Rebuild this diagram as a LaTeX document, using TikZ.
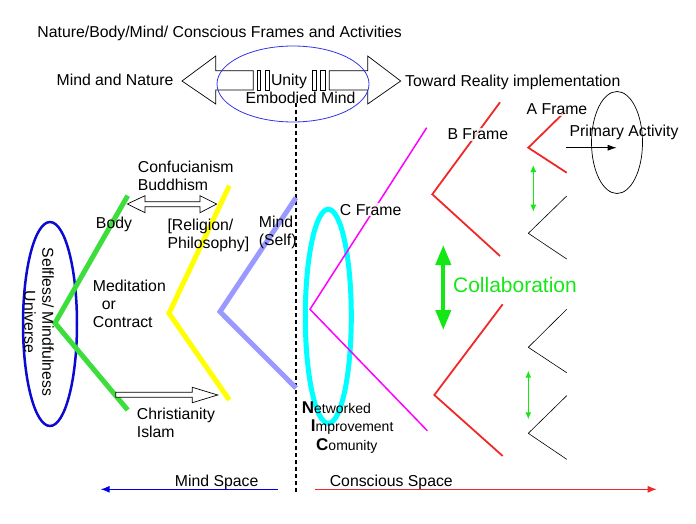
\documentclass[tikz,border=0pt]{standalone}
\usepackage{fontspec}
\setmainfont{Liberation Sans}
\usetikzlibrary{arrows.meta}
\definecolor{vgreen}{RGB}{60,222,60}
\definecolor{vlav}{RGB}{153,153,255}
\definecolor{vyellow}{RGB}{255,255,0}
\definecolor{vred}{RGB}{240,40,40}
\definecolor{vmag}{RGB}{255,0,255}
\definecolor{vcyan}{RGB}{0,255,255}
\definecolor{agreen}{RGB}{20,232,20}
\definecolor{eblue}{RGB}{10,10,210}
\definecolor{tblue}{RGB}{50,50,230}
\definecolor{sblue}{RGB}{0,0,230}
\begin{document}
\begin{tikzpicture}[x=1pt,y=-1pt,
    lbl/.style={inner sep=0pt,font=\fontsize{15.8}{18}\selectfont,align=left},
    framelbl/.style={lbl,fill=white,fill opacity=0.8,text opacity=1,inner sep=1pt},
    nic/.style={inner sep=0pt,font=\fontsize{14}{18.5}\selectfont,align=left},
    vshape/.style={line width=5pt},
    thinv/.style={line width=1.8pt},
    smallv/.style={line width=0.6pt},
    hollow/.style={draw=black,fill=white,line width=0.7pt},
    greenarr/.style={agreen,line width=1pt,{Latex[length=7pt,width=6pt]}-{Latex[length=7pt,width=6pt]}},
    spacearr/.style={line width=1pt,-{Latex[length=9pt,width=7pt]}}
    ]
    \useasboundingbox (0,0) rectangle (696,524);

    % top arrows round the unity
    \draw[hollow] (182,81) -- (215.7,56) -- (215.7,70.7) -- (253.3,70.7) -- (253.3,90) -- (215.7,90) -- (215.7,104) -- cycle;
    \draw[hollow] (257.3,70.7) rectangle (260.7,90);
    \draw[hollow] (265.7,70.7) rectangle (269.3,90);
    \draw[hollow] (312.7,70.7) rectangle (316.7,90);
    \draw[hollow] (320.7,70.7) rectangle (325,90);
    \draw[hollow] (400.7,81) -- (367.7,56) -- (367.7,70.7) -- (329.3,70.7) -- (329.3,90) -- (367.7,90) -- (367.7,104) -- cycle;
    \draw[tblue,line width=0.8pt] (293,84) ellipse [x radius=76pt,y radius=38pt];

    \coordinate (dtop) at (296,103);
    \coordinate (dbot) at (296,492);
    \draw[line width=2.2pt,dash pattern=on 4pt off 3pt] (dtop) -- (dbot);

    % body / religion / mind frames
    \draw[eblue,line width=2.5pt] (50,324) ellipse [x radius=27pt,y radius=102pt];
    \draw[vshape,vgreen] (127.7,195.7) -- (55,323) -- (127.7,410);
    \draw[vshape,vyellow] (229.3,185.7) -- (169,313.3) -- (229.3,400);
    \draw[vshape,vlav] (296,197.7) -- (220,311.7) -- (296,388);
    \draw[hollow] (127.3,204) -- (145,195.7) -- (145,201.7) -- (200,201.7) -- (200,195.7) -- (216.7,204) -- (200,212.7) -- (200,206.7) -- (145,206.7) -- (145,212.7) -- cycle;
    \draw[hollow] (115.7,392.3) -- (192.3,392.3) -- (192.3,387.3) -- (217.7,395) -- (192.3,402.7) -- (192.3,397.3) -- (115.7,397.3) -- cycle;

    % conscious frames
    \draw[vcyan,line width=5pt] (328.3,316.3) ellipse [x radius=23pt,y radius=107pt];
    \draw[vmag,line width=1.5pt] (426.7,127.7) -- (310,309.3) -- (427.3,430.7);
    \draw[thinv,vred] (500,102.3) -- (432.3,194.3) -- (500,256);
    \draw[thinv,vred] (502.7,304.3) -- (434.3,395) -- (502.7,456);
    \draw[thinv,vred] (566.7,110) -- (528.3,147.7) -- (566.7,172.7);
    \draw[smallv] (566.7,196) -- (528.3,233.3) -- (566.7,259);
    \draw[smallv] (566.7,309.3) -- (528.3,347.3) -- (566.7,372.7);
    \draw[smallv] (566.7,395.7) -- (528.3,433.3) -- (566.7,459.3);
    \draw[line width=0.7pt] (617,142.5) ellipse [x radius=25.5pt,y radius=51pt];

    \node[lbl,anchor=base] (title) at (219.7,38) {Nature/Body/Mind/ Conscious Frames and Activities};
    \node[lbl,anchor=base] (mindnat) at (115,85.7) {Mind and Nature};
    \node[lbl,anchor=base west] (toward) at (405,86.4) {Toward Reality implementation};
    \node[lbl,anchor=base] (unity) at (289,85.7) {Unity};
    \node[lbl,anchor=base] (embodied) at (300.5,103.7) {Embodied Mind};
    \node[framelbl,anchor=base] (aframe) at (557,114.7) {A Frame};
    \node[framelbl,anchor=base] (bframe) at (477.8,139.7) {B Frame};
    \node[framelbl,anchor=base] (cframe) at (370.7,215) {C Frame};
    \node[lbl,anchor=base] (primary) at (624,136.4) {Primary Activity};
    \node[lbl,anchor=base] (body) at (114,228) {Body};
    \node[lbl,anchor=base west] (confu) at (137.7,190) {Confucianism\\Buddhism};
    \node[lbl,anchor=base west] (relig) at (167.3,248) {[Religion/\\Philosophy]};
    \node[lbl,anchor=base west] (mindself) at (258.7,245.7) {Mind\\(Self)};
    \node[lbl,anchor=base west] (medit) at (92.7,327.4) {Meditation\\\hspace*{9pt}or\\Contract};
    \node[lbl,anchor=base west] (christ) at (136.7,437.4) {Christianity\\Islam};
    \node[lbl,align=center,rotate=-90] (selfless) at (39,322) {Selfless/ Mindfulness\\Universe};
    \node[nic,anchor=base west] (nic) at (301.7,450) {{\fontsize{17}{18}\selectfont\bfseries N}etworked\\\hspace*{9pt}{\fontsize{17}{18}\selectfont\bfseries I}mprovement\\\hspace*{14.3pt}{\fontsize{17}{18}\selectfont\bfseries C}omunity};
    \node[lbl,anchor=base,text=agreen,font=\fontsize{21}{24}\selectfont] (collab) at (515,292.5) {Collaboration};
    \node[lbl,anchor=base] (mindsp) at (216.7,486.4) {Mind Space};
    \node[lbl,anchor=base] (conssp) at (391.3,486.4) {Conscious Space};

    % connectors
    \coordinate (pa1) at (565.7,147.7);
    \coordinate (pa2) at (616.7,147.7);
    \draw[line width=0.8pt,-{Latex[length=9pt,width=6pt]}] (pa1) -- (pa2);
    \coordinate (ga1) at (533.3,165);
    \coordinate (ga2) at (533.3,211.7);
    \coordinate (gb1) at (528.3,370.7);
    \coordinate (gb2) at (528.3,419.3);
    \draw[greenarr] (ga1) -- (ga2);
    \draw[greenarr] (gb1) -- (gb2);
    \coordinate (co1) at (443.3,245);
    \coordinate (co2) at (443.3,330);
    \draw[agreen,line width=4pt,{Triangle[length=20pt,width=15pt]}-{Triangle[length=20pt,width=15pt]}] (co1) -- (co2);
    \coordinate (ms1) at (278,489.3);
    \coordinate (ms2) at (100.7,489.3);
    \draw[spacearr,sblue] (ms1) -- (ms2);
    \coordinate (cs1) at (315,489.3);
    \coordinate (cs2) at (656.7,489.3);
    \draw[spacearr,vred] (cs1) -- (cs2);
\end{tikzpicture}
\end{document}
